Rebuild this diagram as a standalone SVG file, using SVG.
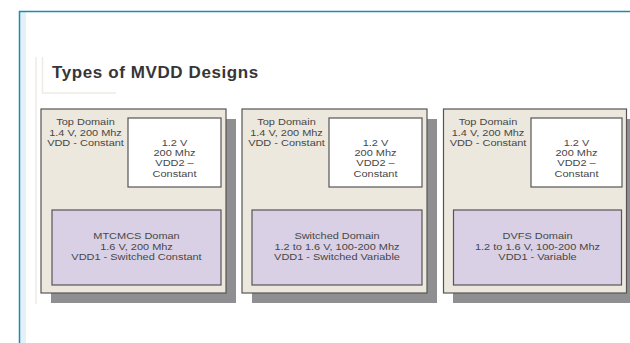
<svg xmlns="http://www.w3.org/2000/svg" width="630" height="343" viewBox="0 0 630 343">
<style>
.frame{fill:none;stroke:#1b8cb3;stroke-width:1.5}
.faint{fill:none;stroke:#efebe6;stroke-width:1.5}
.shadow{fill:#8f8f92}
.outer{fill:#ece8dd;stroke:#555;stroke-width:1.2}
.white{fill:#fff;stroke:#555;stroke-width:1.2}
.purple{fill:#d9d0e5;stroke:#555;stroke-width:1.2}
.t{font-family:"Liberation Sans",Arial,sans-serif;font-size:9px;fill:#474747;text-anchor:middle}
.title{font-family:"Liberation Sans",Arial,sans-serif;font-size:17px;font-weight:bold;fill:#363636;letter-spacing:0.6px}
</style>
<rect x="0" y="0" width="630" height="343" fill="#fff"/>
<rect x="20" y="12" width="6" height="331" fill="#e3f2f8"/>
<path class="frame" d="M19.5,343 V11.5 H630"/>
<g id="title-panel">
<path class="faint" d="M36,57 V304 M42.5,57 V93 H116"/>
<text class="title" x="52" y="78">Types of MVDD Designs</text>
</g>
<g id="node-mtcmcs">
<rect class="shadow" x="51" y="119" width="185" height="184"/>
<rect class="outer" x="41" y="109" width="185" height="184"/>
<rect class="white" x="128" y="118" width="93" height="69"/>
<rect class="purple" x="52" y="210" width="169" height="75"/>
<g transform="translate(85.5,0) scale(1.22,1)">
<text class="t" x="0" y="125.2">Top Domain</text>
<text class="t" x="0" y="135.6">1.4 V, 200 Mhz</text>
<text class="t" x="0" y="146">VDD - Constant</text>
</g>
<g transform="translate(174.5,0) scale(1.22,1)">
<text class="t" x="0" y="145.7">1.2 V</text>
<text class="t" x="0" y="156">200 Mhz</text>
<text class="t" x="0" y="166.3">VDD2 –</text>
<text class="t" x="0" y="176.6">Constant</text>
</g>
<g transform="translate(136.5,0) scale(1.22,1)">
<text class="t" x="0" y="239.5">MTCMCS Doman</text>
<text class="t" x="0" y="249.9">1.6 V, 200 Mhz</text>
<text class="t" x="0" y="260.3">VDD1 -  Switched Constant</text>
</g>
</g>
<g id="node-switched">
<rect class="shadow" x="252" y="119" width="185" height="184"/>
<rect class="outer" x="242" y="109" width="185" height="184"/>
<rect class="white" x="329" y="118" width="93" height="69"/>
<rect class="purple" x="252" y="210" width="170" height="75"/>
<g transform="translate(286.5,0) scale(1.22,1)">
<text class="t" x="0" y="125.2">Top Domain</text>
<text class="t" x="0" y="135.6">1.4 V, 200 Mhz</text>
<text class="t" x="0" y="146">VDD - Constant</text>
</g>
<g transform="translate(375.5,0) scale(1.22,1)">
<text class="t" x="0" y="145.7">1.2 V</text>
<text class="t" x="0" y="156">200 Mhz</text>
<text class="t" x="0" y="166.3">VDD2 –</text>
<text class="t" x="0" y="176.6">Constant</text>
</g>
<g transform="translate(337,0) scale(1.22,1)">
<text class="t" x="0" y="239.5">Switched Domain</text>
<text class="t" x="0" y="249.9">1.2 to 1.6 V, 100-200 Mhz</text>
<text class="t" x="0" y="260.3">VDD1 - Switched Variable</text>
</g>
</g>
<g id="node-dvfs">
<rect class="shadow" x="453" y="119" width="183" height="184"/>
<rect class="outer" x="443.5" y="109" width="183" height="184"/>
<rect class="white" x="531" y="118" width="91" height="69"/>
<rect class="purple" x="453.5" y="210" width="168" height="75"/>
<g transform="translate(488,0) scale(1.22,1)">
<text class="t" x="0" y="125.2">Top Domain</text>
<text class="t" x="0" y="135.6">1.4 V, 200 Mhz</text>
<text class="t" x="0" y="146">VDD - Constant</text>
</g>
<g transform="translate(576.5,0) scale(1.22,1)">
<text class="t" x="0" y="145.7">1.2 V</text>
<text class="t" x="0" y="156">200 Mhz</text>
<text class="t" x="0" y="166.3">VDD2 –</text>
<text class="t" x="0" y="176.6">Constant</text>
</g>
<g transform="translate(537.5,0) scale(1.22,1)">
<text class="t" x="0" y="239.5">DVFS Domain</text>
<text class="t" x="0" y="249.9">1.2 to 1.6 V, 100-200 Mhz</text>
<text class="t" x="0" y="260.3">VDD1 - Variable</text>
</g>
</g>
<g id="connectors"/>
</svg>
